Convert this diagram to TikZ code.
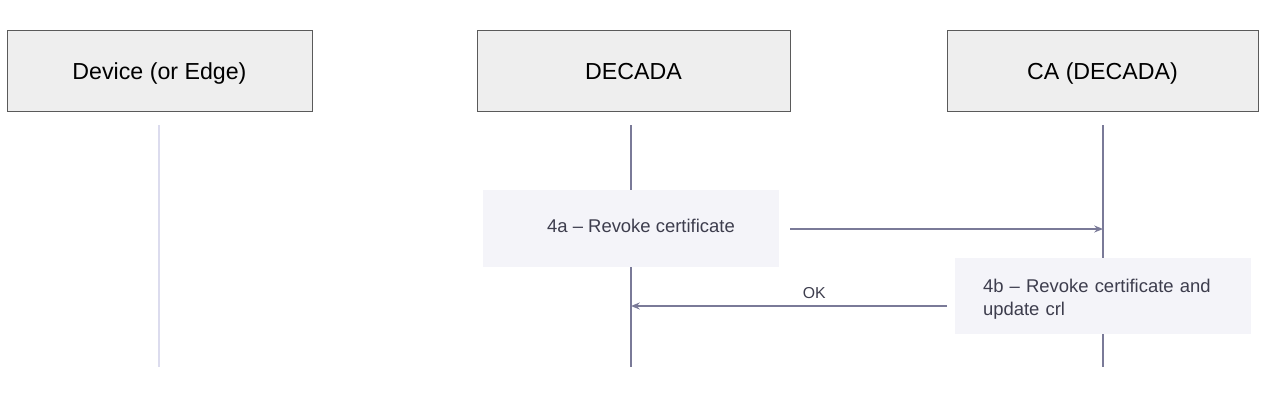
\documentclass[tikz,border=0pt]{standalone}
\usepackage{fontspec}
\setmainfont{Liberation Sans}
\usetikzlibrary{arrows.meta,calc}

\definecolor{boxgray}{HTML}{EEEEEE}
\definecolor{boxline}{HTML}{5A5A5A}
\definecolor{lifedark}{HTML}{7A7A98}
\definecolor{lifelight}{HTML}{DCDCEE}
\definecolor{notefill}{HTML}{F4F4F9}
\definecolor{notetext}{HTML}{3D3D4D}

\begin{document}
\begin{tikzpicture}[
    x=0.02cm, y=-0.02cm,
    actor/.style={draw=boxline, fill=boxgray, minimum height=1.62cm,
        font=\fontsize{13.2}{15}\selectfont, inner sep=0pt,
        text height=10.6pt, text depth=0pt},
    note/.style={fill=notefill, minimum height=1.53cm,
        minimum width=5.92cm, inner sep=0pt},
    notelabel/.style={text=notetext, inner sep=0pt,
        font=\fontsize{10.5}{12.9}\selectfont},
    lifeline/.style={draw=lifedark, line width=1.1pt},
    msg/.style={draw=lifedark, line width=1.1pt,
        -{Stealth[length=5pt,width=4pt]}},
 ]
    \useasboundingbox (0,0) rectangle (1269,416);

    \node[actor, minimum width=6.1cm]  (dev) at (159.5,70.5) {Device (or Edge)};
    \node[actor, minimum width=6.26cm] (dec) at (633.5,70.5) {DECADA};
    \node[actor, minimum width=6.22cm] (ca)  at (1102.5,70.5) {CA (DECADA)};

    % lifelines
    \coordinate (devtop) at (159,125);   \coordinate (devbot) at (159,367);
    \coordinate (dectop) at (631,125);   \coordinate (decbot) at (631,367);
    \coordinate (catop)  at (1103,125);  \coordinate (cabot)  at (1103,367);
    \draw[lifeline, draw=lifelight] (devtop) -- (devbot);
    \draw[lifeline] (dectop) -- (decbot);
    \draw[lifeline] (catop) -- (cabot);

    \node[note] (revoke) at (631,228.5) {};
    \node[notelabel] (revoketext) at (641,226) {4a -- Revoke certificate};
    \node[note] (update) at (1103,296) {};
    \node[notelabel, text width=4.8cm, align=left] (updatetext)
        at (1103,299) {4b -- Revoke certificate and\\update crl};

    \coordinate (sendA) at (790,229);
    \coordinate (recvA) at (1103,229);
    \draw[msg] (sendA) -- (recvA);

    \coordinate (sendB) at (947,306);
    \coordinate (recvB) at (631,306);
    \draw[msg] (sendB) -- node[pos=0.42, above=0.5pt, text=notetext,
        font=\fontsize{9}{10}\selectfont] (ok) {OK} (recvB);
\end{tikzpicture}
\end{document}
